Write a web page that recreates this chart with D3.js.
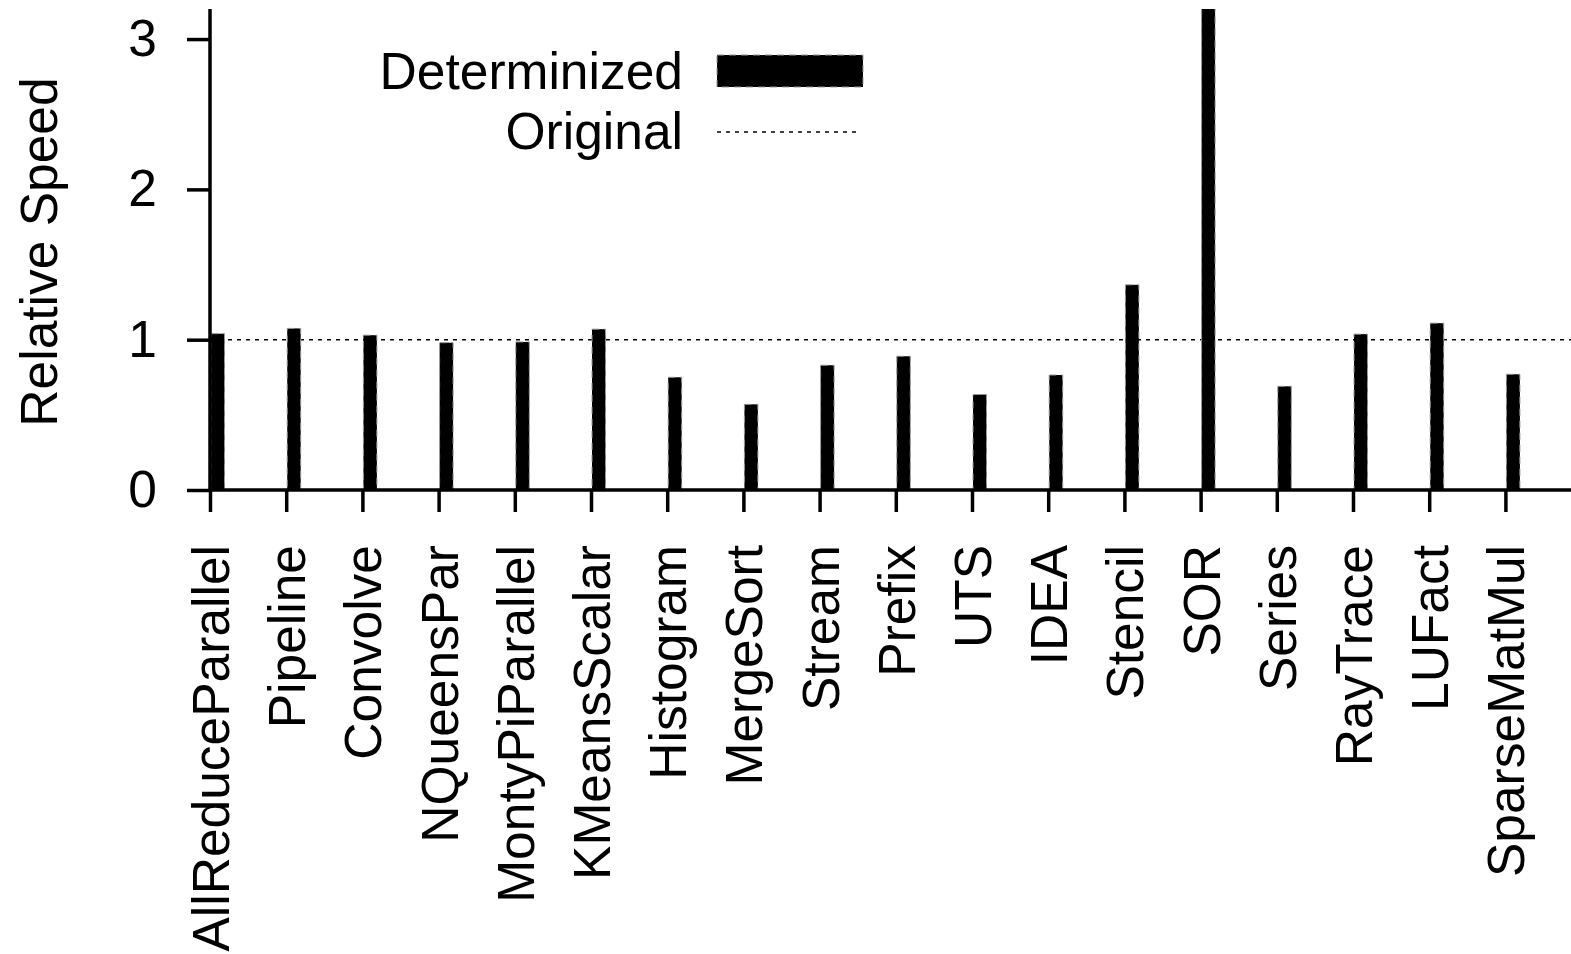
<!DOCTYPE html>
<html>
<head>
<meta charset="utf-8">
<script src="https://cdn.jsdelivr.net/npm/d3@7"></script>
<style>
  html, body { margin: 0; padding: 0; background: #fff; }
  svg { display: block; font-family: "Liberation Sans", Arial, Helvetica, sans-serif; }
</style>
</head>
<body>
<svg id="chart" width="1571" height="954"></svg>
<script>
const categories = ["AllReduceParallel","Pipeline","Convolve","NQueensPar","MontyPiParallel","KMeansScalar","Histogram","MergeSort","Stream","Prefix","UTS","IDEA","Stencil","SOR","Series","RayTrace","LUFact","SparseMatMul"];
const determinized = [1.04,1.075,1.03,0.98,0.985,1.07,0.75,0.57,0.83,0.89,0.635,0.765,1.365,3.3,0.69,1.037,1.11,0.77];
const originalLevel = 1;
const yTicks = [0,1,2,3];
const seriesNames = ["Determinized","Original"];

(function draw() {
const svg = d3.select("#chart");
const mLeft = 210, mBottom = 490, mTop = 9, mRight = 1571;
const fontSize = 51.5;

const x = d3.scaleLinear().domain([0, categories.length - 1]).range([mLeft, mLeft + 76.2 * (categories.length - 1)]);
const y = d3.scaleLinear().domain([0, 3.2]).range([mBottom, mTop]);

svg.append("defs").append("clipPath").attr("id","plotclip")
  .append("rect").attr("x", mLeft).attr("y", mTop).attr("width", mRight - mLeft).attr("height", mBottom - mTop);

const plot = svg.append("g").attr("clip-path","url(#plotclip)");

// Original reference line (dotted)
plot.append("line")
  .attr("x1", mLeft).attr("x2", mRight)
  .attr("y1", y(originalLevel)).attr("y2", y(originalLevel))
  .attr("stroke", "#000").attr("stroke-width", 1.6)
  .attr("stroke-dasharray", "4,5");

// Bars
const barW = 13.5;
plot.selectAll("rect.bar").data(determinized).enter().append("rect")
  .attr("class","bar")
  .attr("x", (d,i) => x(i) + 1)
  .attr("y", d => y(d))
  .attr("width", barW)
  .attr("height", d => y(0) - y(d))
  .attr("fill", "#000")
  .attr("stroke", "#999")
  .attr("stroke-width", 1)
  .attr("stroke-dasharray", "7,5");

// Y axis
const yAxis = d3.axisLeft(y).tickValues(yTicks).tickFormat(d3.format("d")).tickSize(23).tickPadding(30);
const gy = svg.append("g").attr("transform", `translate(${mLeft},0)`).call(yAxis);
gy.select(".domain").attr("stroke-width", 3.5).attr("d", `M0,${mTop}V${mBottom}`);
gy.selectAll(".tick line").attr("stroke-width", 3.5);
gy.selectAll(".tick text").attr("font-size", fontSize).attr("fill","#000")
  .attr("font-family", "'Liberation Sans', Arial, sans-serif");

// X axis
const xAxis = d3.axisBottom(x).tickValues(d3.range(categories.length)).tickFormat(i => categories[i]).tickSize(22).tickPadding(0);
const gx = svg.append("g").attr("transform", `translate(0,${mBottom})`).call(xAxis);
gx.select(".domain").attr("stroke-width", 3.5).attr("d", `M${mLeft},0H${mRight}`);
gx.selectAll(".tick line").attr("stroke-width", 3.5);
gx.selectAll(".tick text")
  .attr("font-size", fontSize).attr("fill","#000")
  .attr("font-family", "'Liberation Sans', Arial, sans-serif")
  .attr("text-anchor", "end")
  .attr("transform", "rotate(-90)")
  .attr("x", -55).attr("y", 0).attr("dy", "0.36em");

// Y axis title
svg.append("text")
  .attr("transform", `translate(57,252) rotate(-90)`)
  .attr("text-anchor", "middle")
  .attr("font-size", fontSize)
  .text("Relative Speed");

// Legend
const leg = svg.append("g");
leg.append("text").attr("x", 683).attr("y", 71).attr("dy","0.35em").attr("text-anchor","end")
  .attr("font-size", fontSize).text(seriesNames[0]);
leg.append("rect").attr("x", 717).attr("y", 55).attr("width", 146).attr("height", 32)
  .attr("fill","#000").attr("stroke","#999").attr("stroke-width",1).attr("stroke-dasharray","7,5");
leg.append("text").attr("x", 683).attr("y", 131).attr("dy","0.35em").attr("text-anchor","end")
  .attr("font-size", fontSize).text(seriesNames[1]);
leg.append("line").attr("x1", 717).attr("x2", 860).attr("y1", 132).attr("y2", 132)
  .attr("stroke","#000").attr("stroke-width",1.6).attr("stroke-dasharray","4,5");
})();
</script>
</body>
</html>
